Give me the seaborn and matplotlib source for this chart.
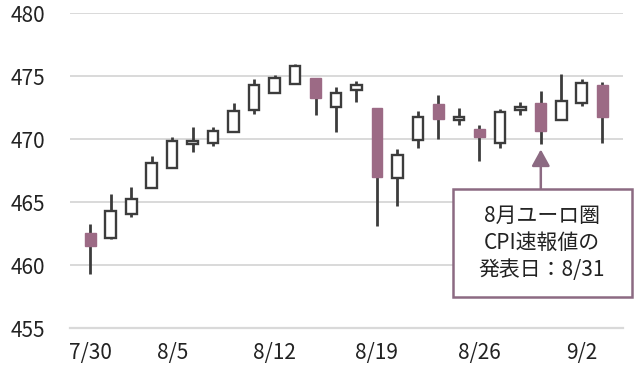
import numpy as np
import pandas as pd
import matplotlib
matplotlib.use("Agg")
import matplotlib.pyplot as plt
import seaborn as sns

# Daily candles, 7/30 - 9/3:
dates = ["7/30", "7/31", "8/1", "8/2",
         "8/5", "8/6", "8/7", "8/8", "8/9",
         "8/12", "8/13", "8/14", "8/15", "8/16",
         "8/19", "8/20", "8/21", "8/22", "8/23",
         "8/26", "8/27", "8/28", "8/29", "8/30",
         "9/2", "9/3"]
open_ = [462.6, 462.15, 464.1, 466.1, 467.7, 469.6, 469.7, 470.6, 472.35,
         473.65, 474.4, 474.85, 472.6, 473.9, 472.45, 466.9, 469.95, 472.8,
         471.5, 470.8, 469.75, 472.3, 472.85, 471.5, 472.85, 474.35]
high = [463.3, 465.7, 466.25, 468.7, 470.15, 470.95, 470.95, 472.9, 474.8,
        475.1, 476.0, 474.85, 474.15, 474.6, 472.45, 469.2, 472.25, 473.5,
        472.5, 471.1, 472.4, 473.0, 473.8, 475.15, 474.8, 474.55]
low = [459.3, 462.1, 463.8, 466.1, 467.7, 469.0, 469.45, 470.6, 472.0,
       473.65, 474.4, 471.9, 470.6, 473.0, 463.15, 464.7, 469.35, 470.0,
       471.1, 468.3, 469.35, 471.9, 469.65, 471.5, 472.65, 469.75]
close = [461.5, 464.3, 465.25, 468.15, 469.9, 469.9, 470.7, 472.25, 474.35,
         474.85, 475.8, 473.25, 473.7, 474.3, 467.0, 468.75, 471.8, 471.65,
         471.8, 470.2, 472.2, 472.6, 470.65, 473.05, 474.5, 471.8]

label_dates = ["7/30", "8/5", "8/12", "8/19", "8/26", "9/2"]
yticks = [455, 460, 465, 470, 475, 480]
note = "8月ユーロ圏\nCPI速報値の\n発表日：8/31"
note_date = "8/29"

df = pd.DataFrame({"date": dates, "open": open_, "high": high,
                   "low": low, "close": close})
df["x"] = np.arange(len(df))
df["up"] = df["close"] >= df["open"]

sns.set_style("white")
plt.rcParams["font.family"] = ["Noto Sans CJK JP", "DejaVu Sans"]

grey = "#d9d9d9"
dark = "#3c3c3c"
mauve = "#9c6a85"
note_col = "#8c6a82"

fig, ax = plt.subplots(figsize=(6.4, 3.72), dpi=100)
fig.subplots_adjust(left=0.109, right=0.973, bottom=0.1175, top=0.964)

# Wicks:
ax.vlines(df["x"], df["low"], df["high"], color=dark, lw=2.0, zorder=2)

# Bodies:
up = df[df["up"]]
dn = df[~df["up"]]
ax.bar(up["x"], up["close"] - up["open"], bottom=up["open"], width=0.52,
       facecolor="white", edgecolor=dark, lw=1.7, zorder=3)
ax.bar(dn["x"], dn["open"] - dn["close"], bottom=dn["close"], width=0.52,
       facecolor=mauve, edgecolor=mauve, lw=1.0, zorder=3)

# Axes:
ax.set_xlim(-1, len(df))
ax.set_ylim(455, 480)
ax.set_yticks(yticks)
ax.set_xticks([dates.index(d) for d in label_dates])
ax.set_xticklabels(label_dates)
ax.set_xticks(np.arange(-1, len(df) + 1), minor=True)
ax.tick_params(axis="y", length=0, pad=18, labelsize=15, labelcolor="#222222")
ax.tick_params(axis="x", which="both", direction="in", length=4, width=1.2,
               color=grey, pad=10, labelsize=15, labelcolor="#222222")
ax.grid(axis="y", color=grey, lw=1.4)
ax.set_axisbelow(True)
sns.despine(ax=ax, left=True)
ax.spines["bottom"].set_color(grey)
ax.spines["bottom"].set_linewidth(1.6)

# Note box and arrow:
nx = dates.index(note_date)
ax.add_patch(plt.Rectangle((0.6926, 0.0994), 0.3237, 0.3416, transform=ax.transAxes,
                           facecolor="white", edgecolor=note_col, lw=1.8,
                           clip_on=False, zorder=4))
ax.text(0.8535, 0.2708, note, transform=ax.transAxes, ha="center", va="center",
        fontsize=15, linespacing=1.3, color="#222222", zorder=5)
ax.annotate("", xy=(nx, low[nx] - 0.45), xytext=(nx, 0.441),
            textcoords=("data", "axes fraction"),
            arrowprops=dict(arrowstyle="-|>,head_length=1.0,head_width=0.55",
                            color=note_col, lw=1.8, shrinkA=0, shrinkB=0))

plt.savefig("out.png", dpi=100)
